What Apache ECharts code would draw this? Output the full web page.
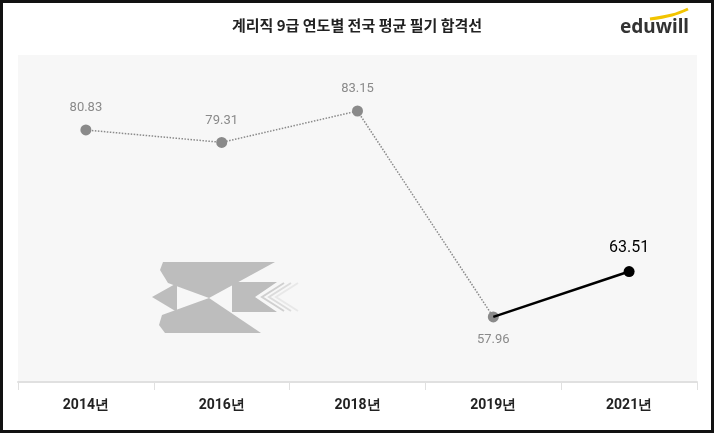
<!DOCTYPE html>
<html><head><meta charset="utf-8">
<script src="https://cdn.jsdelivr.net/npm/echarts@6/dist/echarts.min.js"></script>
<style>body{margin:0}#c{width:714px;height:433px}</style></head>
<body><div id="c"></div>
<script>
var years = ['2014년', '2016년', '2018년', '2019년', '2021년'];
var scores = [80.83, 79.31, 83.15, 57.96, 63.51];

var chart = echarts.init(document.getElementById('c'));
var grey = '#8a8a8a', logo = '#bdbdbd';
var past = scores.map(function (v, i) { return i < 4 ? v : '-'; });
var recent = scores.map(function (v, i) {
    if (i < 3) return '-';
    return i === 3 ? { value: v, symbolSize: 0, label: { show: false } } : v;
});
chart.setOption({
    backgroundColor: '#fff',
    animation: false,
    graphic: [
        { type: 'rect', shape: { x: 18, y: 55, width: 679, height: 327 }, style: { fill: '#f7f7f7' }, z: -10 },
        { type: 'rect', shape: { x: 1.5, y: 1.5, width: 711, height: 430 }, style: { fill: 'none', stroke: '#111', lineWidth: 3 }, z: 100 },
        { type: 'text', left: 'center', top: 18, style: { text: '계리직 9급 연도별 전국 평균 필기 합격선', font: 'bold 15px "Noto Sans CJK KR"', fill: '#222' } },
        { type: 'text', left: 620, top: 18, style: { text: 'eduwill', font: 'bold 19px "Noto Sans"', fill: '#333' } },
        { type: 'polyline', shape: { points: [[650, 19], [672, 15], [688, 9]], smooth: 0.4 }, style: { stroke: '#f2c400', lineWidth: 3, fill: 'none' } },
        { type: 'polygon', shape: { points: [[163, 262], [275, 262], [209, 298], [168, 283], [160, 270]] }, style: { fill: logo } },
        { type: 'polygon', shape: { points: [[152, 297], [177, 283], [177, 312]] }, style: { fill: logo } },
        { type: 'polygon', shape: { points: [[209, 298], [261, 333], [165, 333], [159, 325], [162, 315]] }, style: { fill: logo } },
        { type: 'polygon', shape: { points: [[232, 282], [277, 282], [255, 297], [277, 312], [232, 312]] }, style: { fill: logo } },
        { type: 'polyline', shape: { points: [[284, 283], [262, 297], [284, 311]] }, style: { stroke: '#d0d0d0', lineWidth: 2, fill: 'none' } },
        { type: 'polyline', shape: { points: [[291, 283], [269, 297], [291, 311]] }, style: { stroke: '#dcdcdc', lineWidth: 2, fill: 'none' } },
        { type: 'polyline', shape: { points: [[298, 283], [276, 297], [298, 311]] }, style: { stroke: '#e8e8e8', lineWidth: 2, fill: 'none' } }
    ],
    grid: { left: 18, right: 17, top: 55, bottom: 51 },
    xAxis: {
        type: 'category', data: years, boundaryGap: true,
        axisLine: { lineStyle: { color: '#e0e0e0', width: 2 } },
        axisTick: { show: true, length: 8, lineStyle: { color: '#e0e0e0' } },
        axisLabel: { color: '#222', fontSize: 14, fontWeight: 'bold', margin: 16, fontFamily: 'Roboto' }
    },
    yAxis: { type: 'value', min: 50, max: 90, show: false, splitLine: { show: false } },
    series: [
        {
            type: 'line', data: past, symbol: 'circle', symbolSize: 11,
            itemStyle: { color: grey },
            lineStyle: { color: grey, width: 1.5, type: 'dotted' },
            label: {
                show: true, position: 'top', distance: 10, color: grey, fontSize: 13, fontFamily: 'Roboto',
                formatter: function (p) { return p.value.toFixed(2); }
            },
            labelLayout: function (p) {
                if (p.dataIndex === 3) return { dy: 45 };
            },
            z: 2
        },
        {
            type: 'line', data: recent, symbol: 'circle', symbolSize: 11,
            itemStyle: { color: '#000' },
            lineStyle: { color: '#000', width: 2.5 },
            label: { show: true, position: 'top', distance: 10, color: '#000', fontSize: 16, fontFamily: 'Roboto' },
            z: 3
        }
    ]
});
</script></body></html>
